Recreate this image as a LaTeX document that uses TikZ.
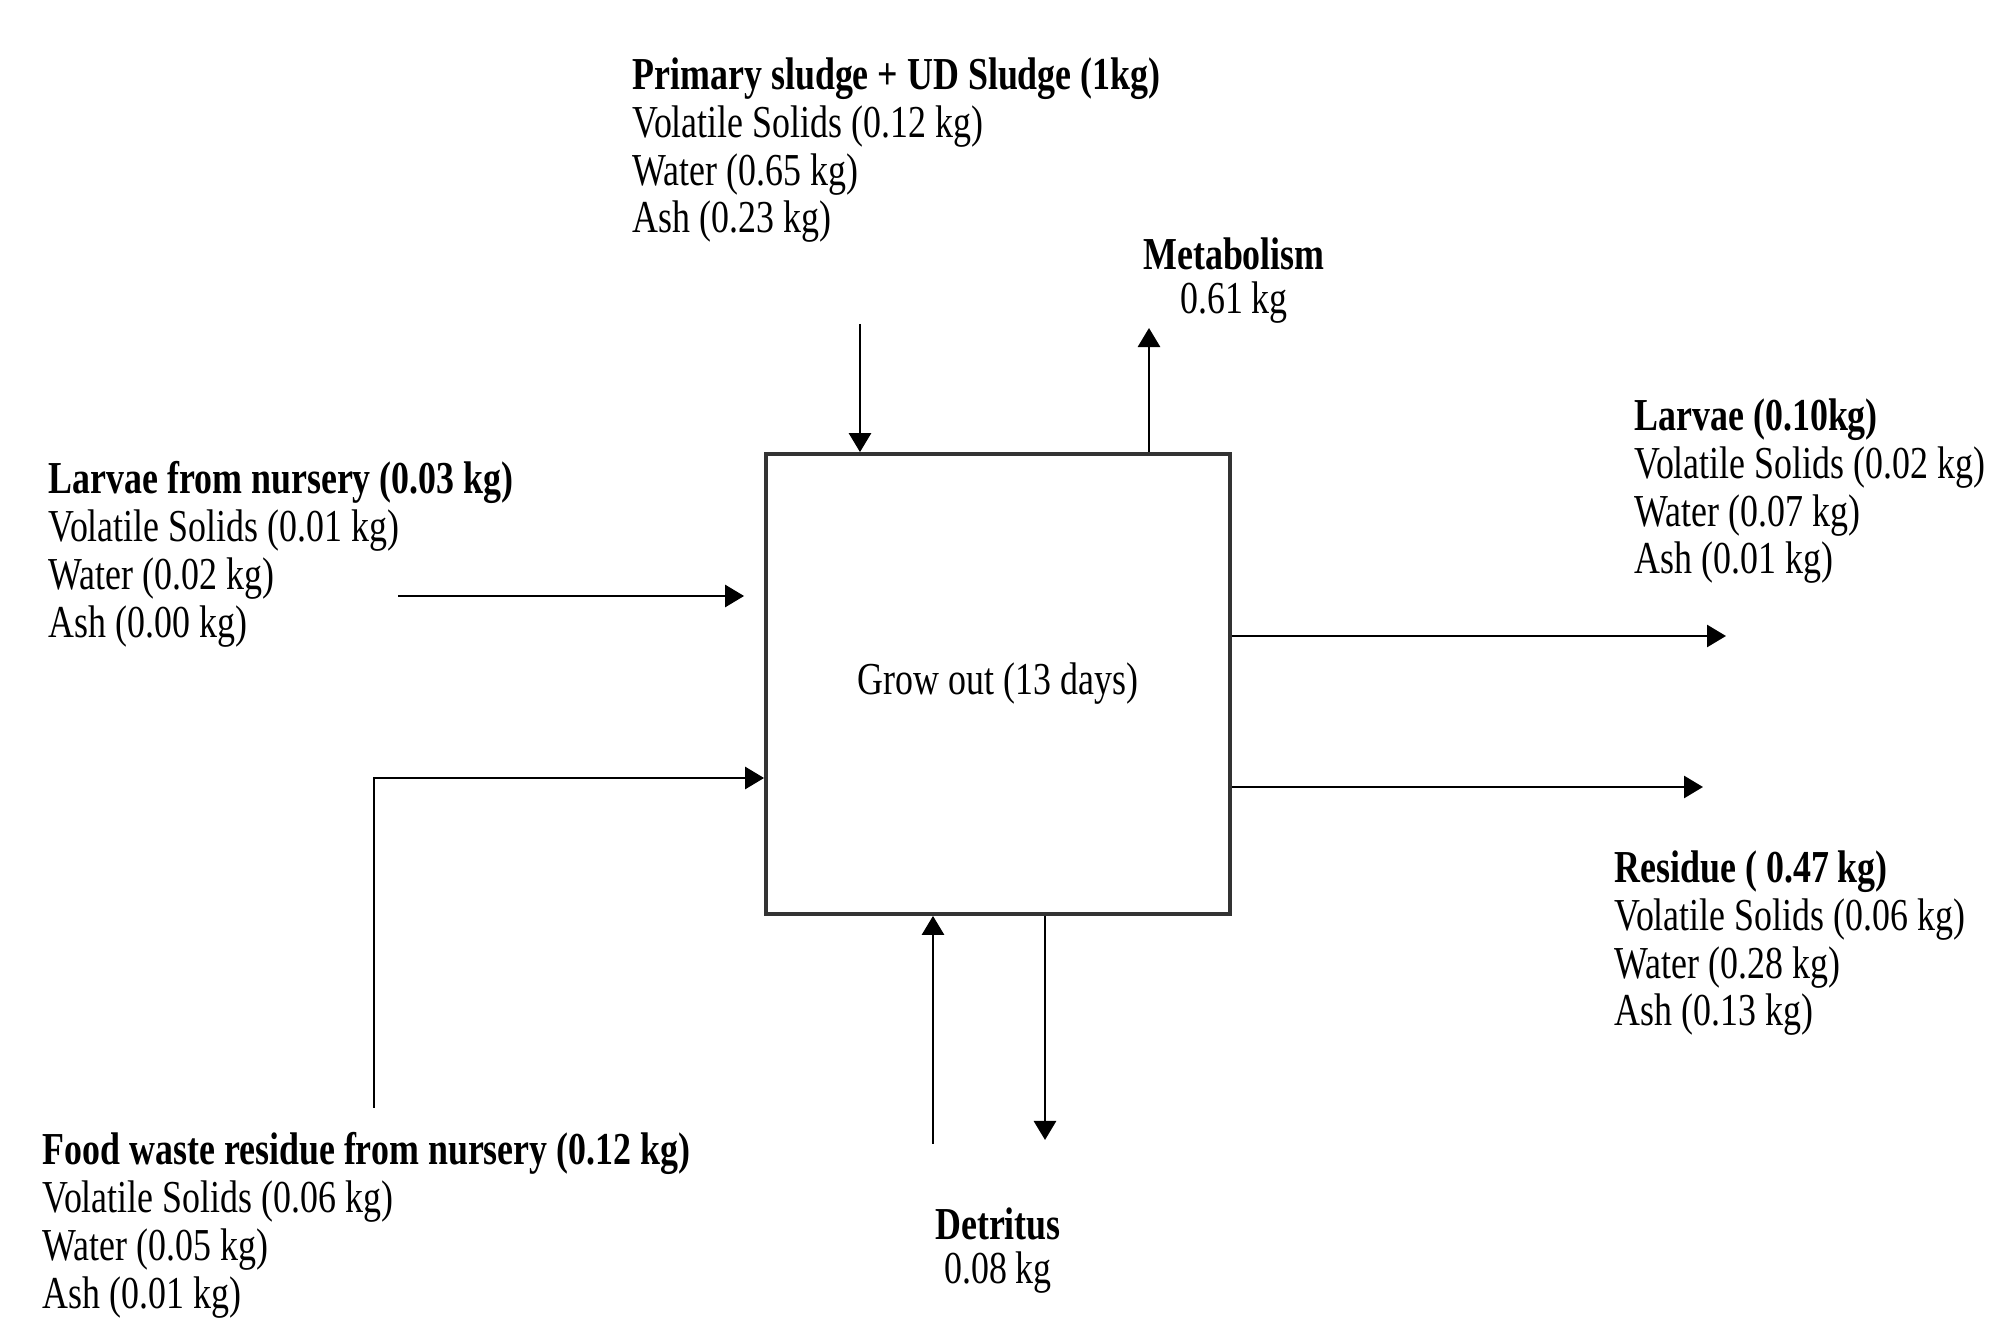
\documentclass[tikz,border=0pt]{standalone}
\usepackage{fontspec}
\setmainfont{Liberation Serif}[FakeStretch=0.785]
\usetikzlibrary{arrows.meta, positioning, calc}

\begin{document}
\begin{tikzpicture}[
    x=0.01cm, y=-0.01cm,
    process/.style = {draw=black!80, line width=1pt, minimum width=4.64cm,
                      minimum height=4.6cm, font=\fontsize{13}{15}\selectfont},
    stream/.style  = {anchor=north west, inner sep=0pt, align=left,
                      font=\fontsize{13}{13.6}\selectfont},
    loss/.style    = {anchor=north, inner sep=0pt, align=center,
                      font=\fontsize{13}{12.4}\selectfont},
    flow/.style    = {-{Triangle[length=1.9mm, width=2.2mm]}, line width=0.8pt},
]

% Fixed canvas with the reference proportions
\useasboundingbox (0,0) rectangle (1993,1319);

% --- the reactor --------------------------------------------------------
\node[process] (growout) at (998,684) {Grow out (13 days)};

% --- stream labels ------------------------------------------------------
\node[stream] (sludge) at (632,57)
      {\textbf{Primary sludge + UD Sludge (1kg)}\\
       Volatile Solids (0.12 kg)\\ Water (0.65 kg)\\ Ash (0.23 kg)};
\node[stream] (nursery) at (48,461)
      {\textbf{Larvae from nursery (0.03 kg)}\\
       Volatile Solids (0.01 kg)\\ Water (0.02 kg)\\ Ash (0.00 kg)};
\node[stream] (foodwaste) at (42,1132)
      {\textbf{Food waste residue from nursery (0.12 kg)}\\
       Volatile Solids (0.06 kg)\\ Water (0.05 kg)\\ Ash (0.01 kg)};
\node[stream] (larvae) at (1634,398)
      {\textbf{Larvae (0.10kg)}\\
       Volatile Solids (0.02 kg)\\ Water (0.07 kg)\\ Ash (0.01 kg)};
\node[stream] (residue) at (1614,850)
      {\textbf{Residue ( 0.47 kg)}\\
       Volatile Solids (0.06 kg)\\ Water (0.28 kg)\\ Ash (0.13 kg)};
\node[loss] (metab) at (1234,237) {\textbf{Metabolism}\\0.61 kg};
\node[loss] (detritus) at (998,1207) {\textbf{Detritus}\\0.08 kg};

% --- free ends of the connectors -----------------------------------------
\coordinate (sludgein) at (860,324);
\coordinate (nurseryin) at (398,596);
\coordinate (foodin) at (374,1108);
\coordinate (foodbend) at (374,778);
\coordinate (larvout) at (1726,636);
\coordinate (resout) at (1703,787);
\coordinate (metout) at (1149,328);
\coordinate (detrin) at (933,1144);
\coordinate (detrout) at (1045,1140);

% --- inputs -------------------------------------------------------------
\draw[flow] (sludgein) -- (sludgein |- growout.north);
\draw[flow] (nurseryin) -- ([xshift=-2mm]nurseryin -| growout.west);
\draw[flow] (foodin) -- (foodbend) -- (foodbend -| growout.west);
\draw[flow] (detrin) -- (detrin |- growout.south);

% --- outputs ------------------------------------------------------------
\draw[flow] (metout |- growout.north) -- (metout);
\draw[flow] (larvout -| growout.east) -- (larvout);
\draw[flow] (resout -| growout.east) -- (resout);
\draw[flow] (detrout |- growout.south) -- (detrout);

\end{tikzpicture}
\end{document}
